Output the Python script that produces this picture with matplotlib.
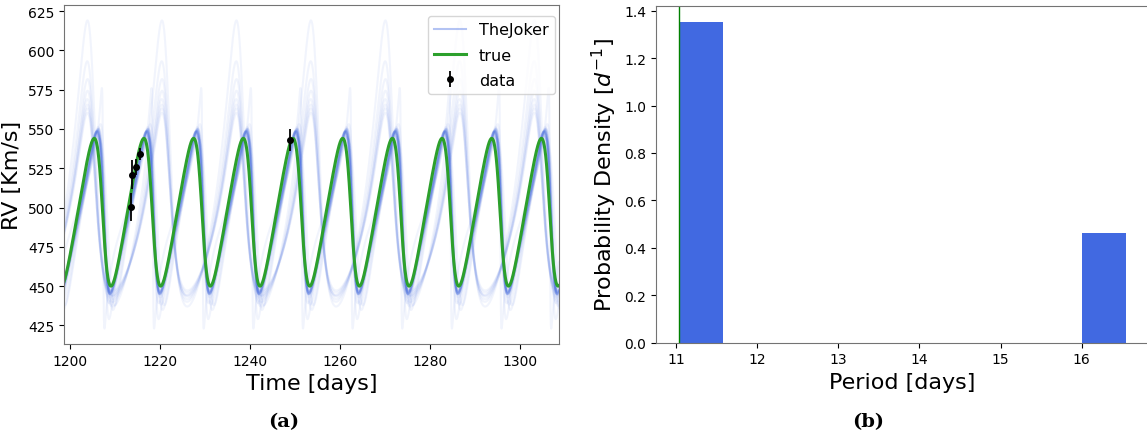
import numpy as np
import matplotlib.pyplot as plt
from matplotlib.lines import Line2D

# observed data points
t_obs = [1213.68, 1213.70, 1214.67, 1215.69, 1248.95]
rv_obs = [500.4, 521.0, 525.8, 534.0, 543.0]
rv_err = [8.7, 9.0, 5.3, 3.7, 7.0]

# true orbit (period, ecc, semi-amplitude, omega [deg], systemic, periastron time)
true_P = 11.04
true_e = 0.26
true_K = 47.0
true_w = 90.0
true_v0 = 497.0
true_tp = 1207.28

# TheJoker posterior samples
smp_P = [11.04, 11.04, 11.04, 11.04, 11.04, 11.04, 11.04, 11.04, 11.04, 11.04,
         11.04, 11.04, 11.04, 11.04, 11.04, 11.04, 11.04, 11.04, 11.04, 11.04,
         11.04, 11.04, 11.03, 11.03,
         16.55, 16.55, 16.55, 16.55, 16.55, 16.55, 16.55, 16.55]
smp_e = [0.38, 0.39, 0.40, 0.38, 0.39, 0.41, 0.38, 0.40, 0.39, 0.37,
         0.42, 0.39, 0.38, 0.40, 0.37, 0.39, 0.43, 0.38, 0.36, 0.33,
         0.30, 0.45, 0.80, 0.55,
         0.35, 0.35, 0.35, 0.35, 0.35, 0.35, 0.35, 0.35]
smp_K = [51.5, 51.0, 52.0, 51.5, 51.0, 52.5, 51.5, 52.0, 51.0, 51.5,
         53.0, 51.5, 52.0, 51.0, 51.5, 52.0, 53.5, 51.0, 54.0, 55.0,
         53.0, 56.0, 76.5, 62.0,
         91.0, 76.5, 70.0, 65.5, 62.5, 60.5, 58.5, 56.5]
smp_w = [90, 88, 86, 90, 87, 86, 89, 85, 88, 90,
         85, 88, 87, 86, 90, 88, 84, 89, 95, 100,
         105, 85, 90, 95,
         45, 45, 46, 44, 45, 47, 45, 44]
smp_v0 = [496.5, 496.5, 496.0, 497.0, 496.5, 496.0, 496.5, 496.0, 497.0, 496.5,
          495.5, 496.5, 496.0, 497.0, 496.5, 496.0, 494.0, 497.0, 494.0, 493.0,
          495.0, 493.0, 499.5, 494.0,
          505.5, 497.6, 494.7, 492.3, 491.0, 490.5, 490.0, 489.5]
smp_tp = [1207.45, 1207.50, 1207.52, 1207.46, 1207.55, 1207.50, 1207.42, 1207.58, 1207.48, 1207.40,
          1207.60, 1207.50, 1207.47, 1207.53, 1207.41, 1207.49, 1207.62, 1207.38, 1207.90, 1208.20,
          1208.60, 1207.40, 1207.40, 1207.85,
          1204.90, 1204.85, 1204.95, 1204.90, 1204.85, 1204.95, 1204.90, 1204.88]

# period histogram (density)
bin_left = [11.03, 16.00]
bin_width = 0.552
bin_density = [1.351, 0.462]


def rv_model(t, P, e, K, w, v0, tp):
    M = 2 * np.pi * (t - tp) / P
    E = M.copy()
    for _ in range(80):
        E = E - (E - e * np.sin(E) - M) / (1 - e * np.cos(E))
    nu = 2 * np.arctan2(np.sqrt(1 + e) * np.sin(E / 2), np.sqrt(1 - e) * np.cos(E / 2))
    wr = np.radians(w)
    return v0 + K * (np.cos(nu + wr) + e * np.cos(wr))


plt.rcParams['font.family'] = 'DejaVu Sans'
fig = plt.figure(figsize=(11.47, 4.35), dpi=100)

t = np.linspace(1198.7, 1308.7, 5000)

#### left panel: RV curves
ax1 = fig.add_axes([0.0558, 0.2069, 0.4316, 0.7793])
for i in range(len(smp_P)):
    ax1.plot(t, rv_model(t, smp_P[i], smp_e[i], smp_K[i], smp_w[i], smp_v0[i], smp_tp[i]),
             color='royalblue', alpha=0.07, lw=1.5)
ax1.plot(t, rv_model(t, true_P, true_e, true_K, true_w, true_v0, true_tp),
         color='C2', lw=2.2)
ax1.errorbar(t_obs, rv_obs, yerr=rv_err, fmt='o', color='black', ms=4, elinewidth=1.3)
ax1.set_xlim(t[0], t[-1])
ax1.set_xlabel("Time [days]", fontsize=16)
ax1.set_ylabel("RV [Km/s]", fontsize=16)
ax1.tick_params(labelsize=10)

handles = [Line2D([], [], color='royalblue', alpha=0.4, lw=1.5),
           Line2D([], [], color='C2', lw=2.2),
           ax1.errorbar([], [], yerr=[], fmt='o', color='black', ms=4, elinewidth=1.3)]
ax1.legend(handles, ['TheJoker', 'true', 'data'], loc='upper right', fontsize=11.5,
           bbox_to_anchor=(0.992, 0.968), borderaxespad=0, labelspacing=0.65)

#### right panel: period histogram
ax2 = fig.add_axes([0.5719, 0.2103, 0.4298, 0.7736])
ax2.bar(bin_left, bin_density, width=bin_width, align='edge', color='royalblue')
ax2.axvline(true_P - 0.01, color='green', lw=1)
ax2.set_xlim(10.75, 16.83)
ax2.set_ylim(0, 1.42)
ax2.set_xlabel("Period [days]", fontsize=16)
ax2.set_ylabel("Probability Density [$d^{-1}$]", fontsize=16)
ax2.tick_params(labelsize=10)

for ax in (ax1, ax2):
    for s in ax.spines.values():
        s.set_color('0.45')

fig.text(0.2476, 0.03, "(a)", ha='center', va='center', fontsize=14,
         fontweight='bold', family='DejaVu Serif')
fig.text(0.757, 0.03, "(b)", ha='center', va='center', fontsize=14,
         fontweight='bold', family='DejaVu Serif')

fig.savefig("out.png", dpi=100)
